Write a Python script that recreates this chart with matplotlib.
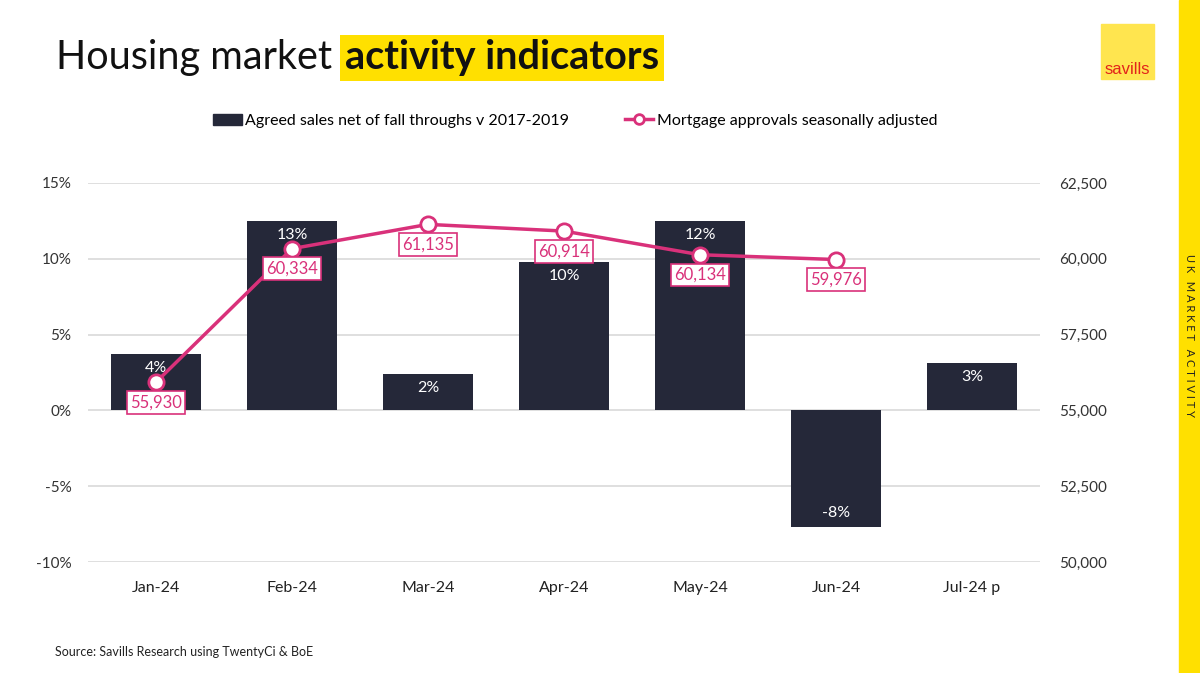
import numpy as np
import matplotlib.pyplot as plt
from matplotlib.patches import Rectangle
from matplotlib.lines import Line2D
from matplotlib.ticker import FuncFormatter

# dados
months = ['Jan-24', 'Feb-24', 'Mar-24', 'Apr-24', 'May-24', 'Jun-24', 'Jul-24 p']
agreed_sales = [3.7, 12.5, 2.4, 9.8, 12.5, -7.7, 3.1]
sales_labels = ['4%', '13%', '2%', '10%', '12%', '-8%', '3%']
mortgages = [55930, 60334, 61135, 60914, 60134, 59976]

navy = '#252839'
pink = '#D9317A'
yellow = '#FFE000'
grid_c = '#d9d9d9'

plt.rcParams['font.family'] = ['Lato', 'DejaVu Sans']

fig = plt.figure(figsize=(12, 6.73), dpi=100)
W, H = 1200, 673

def fx(px):
    return px / W

def fy(py):
    return 1 - py / H

ax = fig.add_axes([fx(88), fy(562), fx(1040) - fx(88), fy(183) - fy(562)])
ax2 = ax.twinx()

x = np.arange(len(months))
bars = ax.bar(x, agreed_sales, width=0.66, color=navy, zorder=2)
ax.set_ylim(-10, 15)
ax.set_yticks([-10, -5, 0, 5, 10, 15])
ax.yaxis.set_major_formatter(FuncFormatter(lambda v, p: f'{v:.0f}%'))
ax.set_xlim(-0.5, len(months) - 0.5)
ax.set_xticks(x)
ax.set_xticklabels(months, fontsize=11.5, color='#222222')
ax.grid(axis='y', color=grid_c, lw=1.2, zorder=0)
ax.set_axisbelow(True)
ax.tick_params(axis='y', length=0, labelsize=11, labelcolor='#333333', pad=12)
ax.tick_params(axis='x', length=0, pad=14)
for s in ax.spines.values():
    s.set_visible(False)
for s in ax2.spines.values():
    s.set_visible(False)

# etiquetas das barras
for xi, v, lab in zip(x, agreed_sales, sales_labels):
    off = -10 if v >= 0 else 10
    ax.annotate(lab, (xi, v), xytext=(0, off), textcoords='offset points',
                ha='center', va='center', color='white', fontsize=11.5, zorder=5)

# linha das hipotecas
ax2.set_ylim(50000, 62500)
ax2.set_yticks([50000, 52500, 55000, 57500, 60000, 62500])
ax2.yaxis.set_major_formatter(FuncFormatter(lambda v, p: f'{v:,.0f}'))
ax2.tick_params(axis='y', length=0, labelsize=11, labelcolor='#333333', pad=14)
xm = x[:len(mortgages)]
ax2.plot(xm, mortgages, color=pink, lw=2.5, marker='o', ms=11,
         mfc='white', mec=pink, mew=2, zorder=4)
for xi, v in zip(xm, mortgages):
    ax2.annotate(f'{v:,}', (xi, v), xytext=(0, -14.5), textcoords='offset points',
                 ha='center', va='center', color=pink, fontsize=12,
                 bbox=dict(boxstyle='square,pad=0.2', fc='white', ec=pink, lw=1.2),
                 zorder=6)

# legenda
h1 = Rectangle((0, 0), 1, 1, color=navy)
h2 = Line2D([], [], color=pink, lw=2.5, marker='o', ms=7, mfc='white', mec=pink, mew=2)
fig.legend([h1, h2], ['Agreed sales net of fall throughs v 2017-2019',
                      'Mortgage approvals seasonally adjusted'],
           loc='center', bbox_to_anchor=(fx(575), fy(121)), ncol=2, frameon=False,
           fontsize=11.5, handlelength=1.8, handletextpad=0.2, columnspacing=3.5)

# titulo
t1 = fig.text(fx(56), fy(58), 'Housing market ', fontsize=28.5, fontweight='normal',
              va='center', ha='left', color='#111111')
fig.canvas.draw()
bb = t1.get_window_extent()
fig.text(bb.x1 / fig.bbox.width + 0.002, fy(58), 'activity indicators', fontsize=28.5,
         fontweight='bold', va='center', ha='left', color='#111111',
         bbox=dict(boxstyle='square,pad=0.12', fc=yellow, ec='none'))

# faixa lateral e logo
fig.patches.append(Rectangle((fx(1179), 0), fx(21), 1, transform=fig.transFigure,
                             color=yellow, zorder=0))
fig.text(fx(1189), fy(335), 'U K   M A R K E T   A C T I V I T Y', rotation=-90,
         fontsize=8, ha='center', va='center', color='#222222')
fig.patches.append(Rectangle((fx(1101), fy(79)), fx(53), fy(24) - fy(79),
                             transform=fig.transFigure, color='#FFE54F', zorder=0))
fig.text(fx(1127.5), fy(70), 'savills', fontsize=12, color='#E2231A',
         ha='center', va='center', family=['Liberation Sans', 'DejaVu Sans'])

fig.text(fx(55), fy(652), 'Source: Savills Research using TwentyCi & BoE',
         fontsize=9, va='center', ha='left', color='#222222')

fig.savefig('out.png', dpi=100)
